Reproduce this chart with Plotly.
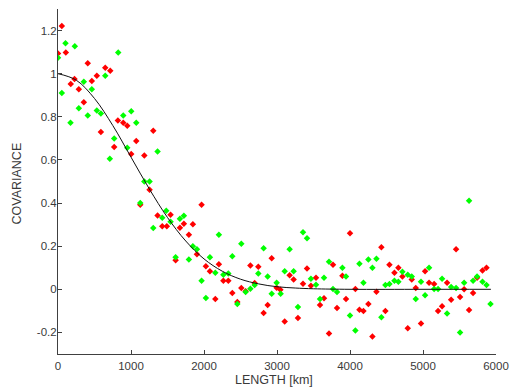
import plotly.graph_objects as go

# Red series
red_x = [52, 0, 107, 408, 647, 716, 226, 175, 463, 532, 285, 354, 587, 820, 894, 949, 1072, 770, 1003, 1182,
         1305, 1254, 1127, 1364, 1428, 1491, 1542, 1670, 1724, 1611, 1793, 1848, 1967, 1903, 2026, 2081, 2155,
         2204, 2265, 2333, 2388, 2456, 2511, 2570, 2635, 2694, 2744, 2872, 2817, 2927, 2995, 3046, 3105, 3173,
         3228, 3287, 3356, 3411, 3465, 3534, 3589, 3644, 3712, 3767, 3822, 3896, 3945, 4000, 4074, 4129, 4184,
         4252, 4307, 4362, 4430, 4485, 4540, 4609, 4663, 4718, 4791, 4846, 4901, 4973, 5028, 5083, 5152, 5206,
         5261, 5330, 5385, 5453, 5508, 5563, 5631, 5686, 5741, 5815, 5870]
red_y = [1.221, 1.094, 1.098, 1.048, 1.028, 1.014, 0.975, 0.952, 0.966, 0.991, 0.928, 0.867, 0.730, 0.783, 0.773,
         0.758, 0.688, 0.660, 0.628, 0.621, 0.735, 0.462, 0.392, 0.342, 0.293, 0.293, 0.346, 0.285, 0.304, 0.135,
         0.253, 0.302, 0.392, 0.163, 0.107, 0.084, -0.045, 0.116, 0.040, 0.040, -0.017, -0.059, 0.006, -0.009,
         0.110, 0.029, 0.105, -0.073, -0.110, 0.144, 0.007, -0.002, -0.149, 0.065, 0.045, -0.133, 0.026, 0.096,
         0.017, 0.054, -0.073, -0.041, -0.205, 0.114, -0.087, 0.063, -0.045, 0.260, 0.001, -0.095, -0.101, -0.068,
         -0.219, -0.011, 0.195, -0.101, 0.114, 0.077, 0.100, 0.059, -0.180, 0.045, 0.006, -0.158, 0.084, 0.031,
         0.025, -0.101, -0.078, 0.031, -0.048, 0.186, -0.036, 0.000, -0.096, -0.017, 0.054, 0.087, 0.100]

# Green series
green_x = [103, 230, 0, 825, 647, 354, 463, 52, 285, 408, 532, 587, 171, 894, 1003, 1072, 770, 949, 710, 1364,
           1182, 1254, 1127, 1305, 1428, 1483, 1542, 1670, 1724, 1611, 1793, 1848, 1903, 1967, 2026, 2081, 2155,
           2204, 2265, 2333, 2388, 2456, 2511, 2570, 2635, 2694, 2744, 2817, 2872, 2927, 2995, 3050, 3105, 3173,
           3228, 3287, 3356, 3411, 3465, 3534, 3589, 3644, 3712, 3767, 3822, 3896, 3945, 4000, 4074, 4129, 4184,
           4252, 4307, 4362, 4430, 4485, 4540, 4609, 4663, 4718, 4791, 4846, 4901, 4973, 5028, 5083, 5152, 5206,
           5261, 5330, 5385, 5453, 5508, 5563, 5631, 5686, 5741, 5815, 5870, 5925]
green_y = [1.141, 1.127, 1.074, 1.098, 0.991, 0.963, 0.928, 0.910, 0.840, 0.806, 0.829, 0.815, 0.773, 0.806,
           0.826, 0.773, 0.699, 0.656, 0.605, 0.639, 0.500, 0.500, 0.400, 0.284, 0.332, 0.364, 0.313, 0.327, 0.341,
           0.149, 0.138, 0.200, 0.186, 0.040, -0.040, 0.149, 0.077, 0.253, 0.067, 0.073, 0.153, -0.068, 0.211,
           -0.012, 0.003, 0.020, 0.073, 0.191, 0.059, -0.020, 0.031, -0.020, 0.084, 0.186, 0.084, -0.082, 0.265,
           0.237, 0.049, 0.021, -0.045, 0.054, 0.128, 0.001, -0.013, 0.100, 0.059, -0.121, -0.191, 0.119, 0.031,
           0.138, 0.100, 0.142, -0.130, 0.020, 0.025, 0.040, 0.035, 0.082, 0.068, 0.059, -0.045, 0.035, -0.027,
           0.100, 0.001, 0.001, 0.049, -0.112, 0.011, 0.006, -0.200, 0.031, 0.411, 0.040, 0.059, 0.035, 0.020,
           -0.068]

# Model curve
curve_x = [0, 250, 500, 750, 1000, 1250, 1500, 1750, 2000, 2250, 2500, 2750, 3000, 3250, 3500, 4000, 5000, 5930]
curve_y = [1.0, 0.970, 0.885, 0.760, 0.613, 0.466, 0.333, 0.224, 0.141, 0.084, 0.047, 0.025, 0.012, 0.006,
           0.0025, 0.0, 0.0, 0.0]

x_ticks = [0, 1000, 2000, 3000, 4000, 5000, 6000]
y_ticks = [-0.2, 0, 0.2, 0.4, 0.6, 0.8, 1, 1.2]
y_tick_text = ["-0.2", "0", "0.2", "0.4", "0.6", "0.8", "1", "1.2"]
x_title = "LENGTH [km]"
y_title = "COVARIANCE"

FONT = "Liberation Sans, Arial, Helvetica, sans-serif"
AX = "#404040"
TXT = "#3a3a3a"

fig = go.Figure()
fig.add_trace(go.Scatter(x=red_x, y=red_y, mode="markers",
                         marker=dict(symbol="diamond", size=5, color="#ff0000", line=dict(width=0)),
                         showlegend=False, hoverinfo="skip"))
fig.add_trace(go.Scatter(x=green_x, y=green_y, mode="markers",
                         marker=dict(symbol="diamond", size=5, color="#00ff00", line=dict(width=0)),
                         showlegend=False, hoverinfo="skip"))
fig.add_trace(go.Scatter(x=curve_x, y=curve_y, mode="lines", line=dict(color="#111111", width=1),
                         line_shape="spline", showlegend=False, hoverinfo="skip"))

fig.update_layout(
    width=512, height=391,
    margin=dict(l=58, r=16, t=9, b=37),
    paper_bgcolor="white", plot_bgcolor="white",
    font=dict(family=FONT, size=11.5, color=TXT),
    xaxis=dict(range=[0, 6000], tickvals=x_ticks, showgrid=False, zeroline=False, automargin=False,
               showline=True, linecolor=AX, linewidth=1, ticks="inside", ticklen=4, tickcolor=AX,
               ticklabelstandoff=1, mirror=False),
    yaxis=dict(range=[-0.3, 1.3], tickvals=y_ticks, ticktext=y_tick_text, showgrid=False, zeroline=False,
               automargin=False, ticklabelstandoff=-2,
               showline=True, linecolor=AX, linewidth=1, ticks="inside", ticklen=4, tickcolor=AX,
               mirror=False),
    annotations=[
        dict(text=x_title, xref="paper", yref="paper", x=0.493, y=-0.0754, xanchor="center", yanchor="middle",
             showarrow=False, font=dict(size=12.5, family=FONT, color=TXT)),
        dict(text=y_title, xref="paper", yref="paper", x=-0.093, y=0.495, xanchor="center", yanchor="middle",
             textangle=-90, showarrow=False, font=dict(size=12.5, family=FONT, color=TXT)),
    ],
)

fig.write_html("out.html")
